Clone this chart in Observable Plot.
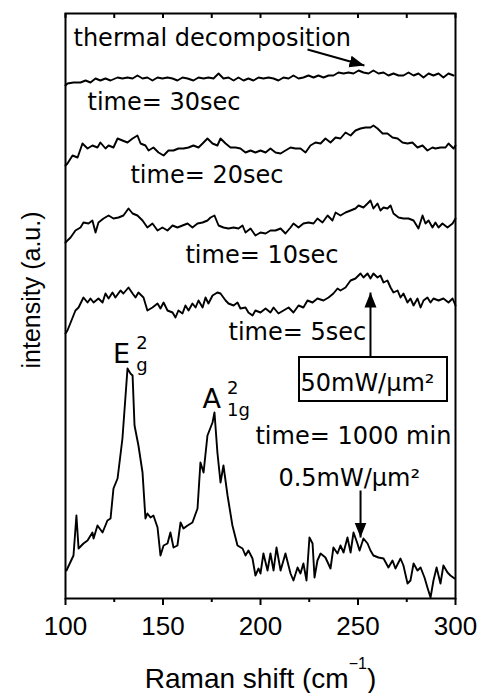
<!DOCTYPE html>
<html><head><meta charset="utf-8">
<script src="https://cdn.jsdelivr.net/npm/d3@7"></script>
<script src="https://cdn.jsdelivr.net/npm/@observablehq/plot@0.6"></script>
<style>body{margin:0;background:#fff;} #chart svg{display:block}</style>
</head><body><div id="chart"></div>
<script>
// ---- spectra (Raman shift in cm^-1, stacked intensity in a.u.) ----
const x1000 = [100.5,104.1,105.6,106.7,109.2,111.3,113.8,114.4,116.4,119.0,121.5,123.1,124.6,126.7,129.2,130.8,131.8,133.3,134.4,135.4,137.4,139.5,141.0,142.0,143.6,145.1,147.2,148.7,150.3,152.3,153.8,155.4,157.4,159.0,160.5,162.6,165.1,167.7,169.2,170.8,172.8,175.4,176.4,177.9,179.5,181.0,183.1,185.6,188.2,190.8,192.3,193.8,195.9,197.4,199.0,200.0,201.5,203.6,205.1,206.7,208.2,210.3,212.8,215.4,216.9,219.0,220.5,222.0,223.6,225.1,226.7,227.7,229.2,230.8,233.3,235.9,237.4,239.5,241.0,242.6,244.6,246.2,247.7,249.7,250.8,252.8,254.9,256.4,257.9,260.5,263.1,265.6,267.7,269.2,271.8,273.3,275.4,276.9,278.5,280.5,282.1,284.1,285.6,287.2,288.7,290.3,292.3,293.8,295.9,297.4,299.5];
const y1000 = [28,43,83,50,55,58,66,60,73,66,78,80,110,120,160,203,230,225,223,173,153,126,80,85,81,83,71,43,53,55,66,51,53,76,70,73,76,90,136,126,163,176,186,146,116,133,103,73,53,50,43,48,40,23,30,25,45,28,45,28,51,28,45,25,18,31,25,35,18,61,55,21,38,45,41,30,51,45,53,46,61,46,66,55,48,60,55,48,43,41,40,31,38,30,40,33,15,18,35,28,31,21,11,1,18,31,15,33,26,23,20];

const x5 = [100,101.0,105.1,106.7,109.2,111.3,112.8,114.4,116.9,119.0,120.5,122.1,124.1,125.6,128.2,129.7,132.3,134.4,135.9,137.4,140.0,142.0,144.6,147.2,148.7,150.3,152.3,154.9,156.4,157.9,160.0,161.5,163.1,165.1,166.7,168.2,170.3,171.8,173.3,175.4,177.9,179.5,182.1,183.6,186.2,188.2,189.7,192.3,193.8,195.9,197.4,200.0,202.6,205.1,206.7,209.2,211.8,214.4,216.9,219.5,222.0,224.1,226.7,229.2,232.3,234.9,237.4,239.5,241.0,243.6,246.2,248.7,251.3,252.8,254.9,256.4,257.9,260.0,261.5,263.1,265.1,266.7,268.2,270.3,271.8,273.3,275.4,276.9,278.5,280.5,282.1,283.6,285.6,287.2,288.7,291.3,293.8,296.4,298.5,300.0];
const y5 = [265,268,288,291,301,296,300,296,300,296,305,300,306,301,308,305,311,305,301,306,301,288,291,295,290,296,288,286,281,288,285,293,288,295,291,298,291,301,295,303,306,305,298,295,293,296,290,291,286,283,288,286,290,286,291,285,288,291,286,293,291,298,296,300,298,301,305,310,308,311,318,320,325,321,325,320,325,321,323,316,318,311,306,308,301,305,296,300,293,300,291,298,301,296,300,298,300,296,300,293];

const x10 = [100,101.0,102.6,105.1,107.7,109.2,111.8,113.8,115.4,116.9,119.5,122.1,124.6,127.2,129.7,132.3,134.4,136.9,139.5,142.0,144.6,147.2,149.7,152.3,154.9,157.4,160.0,162.6,165.1,167.7,170.3,172.8,174.4,176.4,178.5,181.0,183.6,186.2,188.7,190.8,192.3,194.9,197.4,200.0,202.6,205.1,207.7,210.3,212.8,215.4,216.9,219.5,222.0,224.6,227.2,229.2,231.8,234.4,236.9,238.5,241.0,243.6,246.2,248.7,250.3,252.8,254.9,256.4,257.9,260.0,261.5,263.1,265.1,266.7,268.2,270.8,273.3,275.9,278.5,281.0,283.1,284.6,286.2,288.2,289.7,291.3,293.3,295.9,298.5,300.0];
const y10 = [356,358,361,368,371,376,375,378,366,376,380,383,380,381,383,390,385,383,378,371,375,368,371,368,373,371,373,375,371,375,376,378,381,383,373,371,370,371,370,373,366,370,363,366,365,368,368,370,365,371,375,371,375,376,375,380,376,383,378,386,383,386,388,390,393,391,395,398,390,395,388,391,390,393,385,381,380,380,378,370,383,375,378,371,376,371,375,371,375,380];

const x20 = [100,101.0,103.6,106.2,108.7,111.3,113.8,116.4,117.9,120.5,122.1,124.6,126.7,129.2,131.8,134.4,136.9,138.5,141.0,142.6,145.1,147.7,150.3,152.8,155.4,157.9,160.5,163.1,165.6,168.2,170.3,172.8,175.4,177.9,179.5,182.1,184.6,187.2,189.7,192.3,194.9,197.4,200.0,202.6,205.1,207.7,210.3,212.8,215.4,217.9,220.5,223.1,225.6,228.2,230.8,233.3,235.9,238.5,241.0,243.6,246.2,248.7,251.3,253.8,256.4,257.9,260.0,262.6,265.1,267.7,270.3,272.8,275.4,277.9,280.5,283.1,285.6,288.2,289.7,292.3,294.9,296.4,299.0,300.0];
const y20 = [433,435,443,441,455,450,453,451,456,450,453,451,460,458,456,460,463,455,453,448,451,446,443,448,448,450,450,451,453,451,455,460,455,453,460,455,451,451,450,446,448,446,448,446,450,446,445,448,451,450,450,446,453,456,455,460,456,461,460,466,463,468,470,471,471,473,470,465,465,461,460,456,455,456,451,453,448,451,450,451,451,455,450,453];

const x30 = [100,101.0,104.1,107.7,110.3,112.8,115.4,117.9,120.5,123.1,126.7,129.2,131.8,134.4,136.9,139.5,142.0,144.6,147.2,149.7,152.3,154.9,157.4,160.0,162.6,165.6,168.2,170.8,173.3,175.9,178.5,181.0,183.6,186.2,188.7,191.3,193.8,196.4,199.0,201.5,204.1,206.7,209.2,211.8,214.4,216.9,219.5,222.0,224.6,227.2,229.7,232.3,234.9,237.4,240.0,242.6,245.1,247.7,250.3,252.8,255.4,257.9,260.5,263.1,265.6,268.2,270.8,273.3,275.9,278.5,281.0,283.6,286.2,288.7,291.3,293.8,296.4,299.0];
const y30 = [513,515,516,516,518,516,520,518,520,518,521,520,521,520,523,520,521,518,521,520,521,520,518,521,520,518,521,520,521,520,525,520,521,518,521,518,520,518,521,520,521,520,518,521,520,523,520,521,523,521,523,521,523,523,526,525,526,525,528,526,525,528,525,526,523,525,523,523,526,523,525,521,525,523,525,521,525,523];

// ---- axes ----
const xTicksMajor = [100, 150, 200, 250, 300];
const xTicksMinor = [125, 175, 225, 275];
const xLabel = "Raman shift (cm^{\u22121})";
const yLabel = "intensity (a.u.)";

// ---- annotations ----
const timeLabels = ["time= 30sec", "time= 20sec", "time= 10sec", "time= 5sec", "time= 1000 min", "0.5mW/\u00b5m\u00b2", "thermal decomposition"];
const timeLabelX = [111.3, 133.3, 161.5, 183.6, 197.4, 209.2, 104.1];
const timeLabelY = [489, 416, 336, 259, 155, 113, 553];

const peakLabels = ["E^{2}_{g}", "A^{2}_{1g}"];
const peakLabelX = [124.4, 170.3];
const peakLabelY = [236, 191];

const boxText = ["50mW/\u00b5m\u00b2"];
const boxTextX = [220.5];
const boxTextY = [208];
const boxX1 = [220.0], boxX2 = [295.9], boxY1 = [197], boxY2 = [241];

const arrowX1 = [224.1, 256.4, 251.3];
const arrowY1 = [549, 241, 108];
const arrowX2 = [253.3, 256.4, 251.3];
const arrowY2 = [533, 306, 61];

// ---- build table ----
const series = [["1000 min", x1000, y1000], ["5 sec", x5, y5], ["10 sec", x10, y10], ["20 sec", x20, y20], ["30 sec", x30, y30]];
const rows = series.flatMap(([name, xs, ys]) => xs.slice(0, Math.min(xs.length, ys.length)).map((x, i) => ({series: name, x, y: ys[i]})));

const annoFont = "'DejaVu Sans', sans-serif";
const axisFont = "'Liberation Sans', Arial, sans-serif";

function filledArrow(color, context) {
  const doc = (context && context.document) || document;
  const ns = "http://www.w3.org/2000/svg";
  const m = doc.createElementNS(ns, "marker");
  m.setAttribute("viewBox", "-15 -6.5 15 13");
  m.setAttribute("markerWidth", 15);
  m.setAttribute("markerHeight", 13);
  m.setAttribute("markerUnits", "userSpaceOnUse");
  m.setAttribute("refX", 0);
  m.setAttribute("refY", 0);
  m.setAttribute("orient", "auto");
  const p = doc.createElementNS(ns, "path");
  p.setAttribute("d", "M0,0L-15,-6L-15,6Z");
  p.setAttribute("fill", color);
  p.setAttribute("stroke", "none");
  m.appendChild(p);
  return m;
}

const idx = arrowX1.map((_, i) => i);

const chart = Plot.plot({
  width: 478,
  height: 693,
  marginLeft: 65,
  marginRight: 23,
  marginTop: 13,
  marginBottom: 95,
  x: {domain: [100, 300]},
  y: {domain: [0, 585]},
  style: {fontFamily: axisFont, color: "#000", background: "#fff", overflow: "visible"},
  marks: [
    Plot.line(rows, {x: "x", y: "y", z: "series", stroke: "#000", strokeWidth: 1.9, strokeLinejoin: "round"}),
    Plot.frame({stroke: "#000", strokeWidth: 2}),
    Plot.axisX({ticks: xTicksMajor, tickSize: 7, tickPadding: 11, fontSize: 26, strokeWidth: 2, label: null, tickFormat: d => `${d}`}),
    Plot.ruleX(xTicksMinor, {y1: 0, y2: -4, stroke: "#000", strokeWidth: 2}),
    Plot.ruleX([...xTicksMajor, ...xTicksMinor], {y1: 585, y2: 580, stroke: "#000", strokeWidth: 2}),
    Plot.axisY({ticks: [], label: null}),
    Plot.text([xLabel], {x: [200], y: [-89], text: d => d, textAnchor: "middle", lineAnchor: "bottom", fontSize: 28, fontFamily: axisFont, fill: "#000"}),
    Plot.text([yLabel], {frameAnchor: "left", text: d => d, rotate: -90, dx: -34, dy: -16, textAnchor: "middle", lineAnchor: "middle", fontSize: 25, fontFamily: axisFont, fill: "#000"}),
    Plot.text(timeLabels, {x: timeLabelX, y: timeLabelY, text: d => d, textAnchor: "start", lineAnchor: "bottom", fontSize: 24, fontFamily: annoFont, fill: "#000"}),
    Plot.text(peakLabels, {x: peakLabelX, y: peakLabelY, text: d => d, textAnchor: "start", lineAnchor: "bottom", fontSize: 27, fontFamily: annoFont, fill: "#000"}),
    Plot.rect([0], {x1: boxX1, x2: boxX2, y1: boxY1, y2: boxY2, fill: "#fff", stroke: "#000", strokeWidth: 2}),
    Plot.text(boxText, {x: boxTextX, y: boxTextY, text: d => d, textAnchor: "start", lineAnchor: "bottom", fontSize: 24, fontFamily: annoFont, fill: "#000"}),
    Plot.link(idx, {x1: arrowX1, y1: arrowY1, x2: arrowX2, y2: arrowY2, stroke: "#000", strokeWidth: 2, markerEnd: filledArrow})
  ]
});

// turn "^{...}" / "_{...}" into real superscript / subscript tspans
(function richify(svg) {
  const ns = "http://www.w3.org/2000/svg";
  for (const t of svg.querySelectorAll("text")) {
    const s = t.textContent;
    if (!/[\^_]\{/.test(s)) continue;
    const isAxis = s.startsWith("Raman");
    const size = isAxis ? 16 : 18;
    const supShift = isAxis ? -19 : -14;
    const subShift = 8;
    const supGap = isAxis ? 0 : 6;
    const tokens = s.match(/\^\{[^}]*\}|_\{[^}]*\}|[^\^_]+/g);
    t.textContent = "";
    let level = 0, lastSupWidth = 0, prevWasSup = false;
    for (const tok of tokens) {
      const ts = document.createElementNS(ns, "tspan");
      if (tok.startsWith("^{")) {
        const txt = tok.slice(2, -1);
        ts.textContent = txt;
        ts.setAttribute("font-size", size);
        ts.setAttribute("dy", supShift - level);
        ts.setAttribute("dx", supGap);
        level = supShift;
        lastSupWidth = txt.length * 0.636 * size;
        prevWasSup = true;
      } else if (tok.startsWith("_{")) {
        ts.textContent = tok.slice(2, -1);
        ts.setAttribute("font-size", size);
        ts.setAttribute("dy", subShift - level);
        ts.setAttribute("dx", prevWasSup ? -lastSupWidth : supGap);
        level = subShift;
        prevWasSup = false;
      } else {
        ts.textContent = tok;
        if (level !== 0) ts.setAttribute("dy", -level);
        level = 0;
        prevWasSup = false;
      }
      t.appendChild(ts);
    }
  }
})(chart);

document.getElementById("chart").append(chart);
</script>
</body></html>
